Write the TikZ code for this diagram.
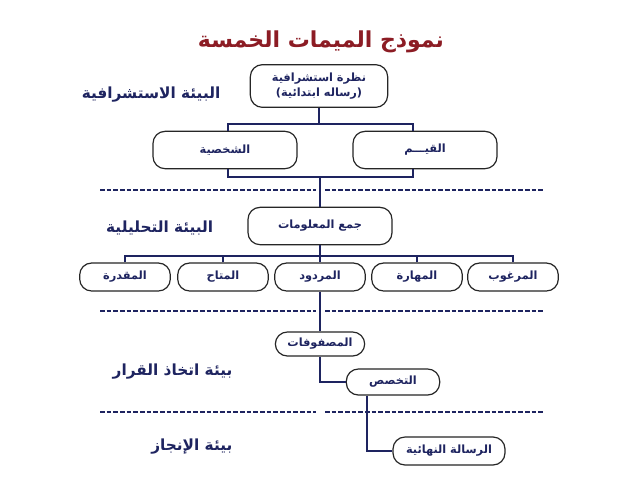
\documentclass[tikz,border=0pt]{standalone}
\usepackage{fontspec}
\usepackage{tikz}
\usetikzlibrary{positioning}
\newfontfamily\arabicfont[Script=Arabic]{DejaVu Sans}
\TeXXeTstate=1
\newcommand{\ar}[1]{\arabicfont\beginR #1\endR}
\definecolor{titlered}{RGB}{140,28,36}
\definecolor{navy}{RGB}{30,36,96}
\tikzset{
x=0.75pt, y=-0.75pt, % one unit is one pixel of the reference, y runs downwards
box/.style={draw=black!85, line width=0.9pt, rounded corners=9pt, fill=white, text=navy, font=\bfseries\fontsize{8.5}{11}\selectfont, align=center, inner sep=2pt}, % sets the properties for each box
bigbox/.style={box, minimum width=108pt, minimum height=28pt},
smallbox/.style={box, minimum width=68pt, minimum height=21pt},
link/.style={draw=navy, line width=1.1pt}, % the joining lines
sep/.style={draw=navy, line width=1.1pt, dash pattern=on 3.5pt off 1.5pt}, % lines between the layers
layer/.style={anchor=east, text=navy, font=\bfseries\fontsize{11.5}{13}\selectfont},
}
\begin{document}
\begin{tikzpicture}
\fill[white] (0,0) rectangle (638,479);
\useasboundingbox (0,0) rectangle (638,479);

\node[text=titlered, font=\bfseries\fontsize{16.5}{18}\selectfont] (title) at (321,42) {\ar{نموذج الميمات الخمسة}};

\node[bigbox, minimum width=103pt, minimum height=32pt] (vision) at (319,86) {\ar{نظرة استشرافية}\\ \ar{(رساله ابتدائية)}};
\node[bigbox] (persona) at (225,150) {\ar{الشخصية}};
\node[bigbox] (values) at (425,150) {\ar{القيـــم}};
\node[bigbox] (gather) at (320,226) {\ar{جمع المعلومات}};

\node[smallbox] (ability) at (125,277) {\ar{المقدرة}};
\node[smallbox] (avail) at (223,277) {\ar{المتاح}};
\node[smallbox] (yield) at (320,277) {\ar{المردود}};
\node[smallbox] (skill) at (417,277) {\ar{المهارة}};
\node[smallbox] (wish) at (513,277) {\ar{المرغوب}};

\node[smallbox, minimum width=67pt, minimum height=18pt] (matrix) at (320,344) {\ar{المصفوفات}};
\node[smallbox, minimum width=70pt, minimum height=19.5pt] (major) at (393,382) {\ar{التخصص}};
\node[smallbox, minimum width=84pt, minimum height=21pt] (final) at (449,451) {\ar{الرسالة النهائية}};

\node[layer] (l1) at (225,95) {\ar{البيئة الاستشرافية}};
\node[layer] (l2) at (218,228) {\ar{البيئة التحليلية}};
\node[layer] (l3) at (237,372) {\ar{بيئة اتخاذ القرار}};
\node[layer] (l4) at (237,447) {\ar{بيئة الإنجاز}};

\coordinate (bus1) at (0,124);
\coordinate (bus2) at (0,177);
\coordinate (bus3) at (0,256);
\coordinate (pdrop) at ([xshift=2.25pt]persona.center);
\coordinate (vdrop) at ([xshift=-9pt]values.center);

\draw[link] (vision.south) -- (vision.south |- bus1);
\draw[link] (pdrop |- persona.north) |- (vdrop |- bus1) -- (vdrop |- values.north);
\draw[link] (pdrop |- persona.south) |- (vdrop |- bus2) -- (vdrop |- values.south);
\draw[link] (gather.north |- bus2) -- (gather.north);
\draw[link] (gather.south) -- (gather.south |- bus3);
\draw[link] (ability.north) |- (wish.north |- bus3) -- (wish.north);
\foreach \n in {avail,yield,skill}
  \draw[link] (\n.north) -- (\n.north |- bus3);
\draw[link] (yield.south) -- (matrix.north);
\draw[link] (matrix.south) |- (major.west);
\draw[link] ([xshift=-19.5pt]major.south) |- (final.west);

\foreach \y in {190,311,412}{
  \draw[sep] (100,\y) -- (316,\y);
  \draw[sep] (325,\y) -- (544,\y);
}
\end{tikzpicture}
\end{document}
